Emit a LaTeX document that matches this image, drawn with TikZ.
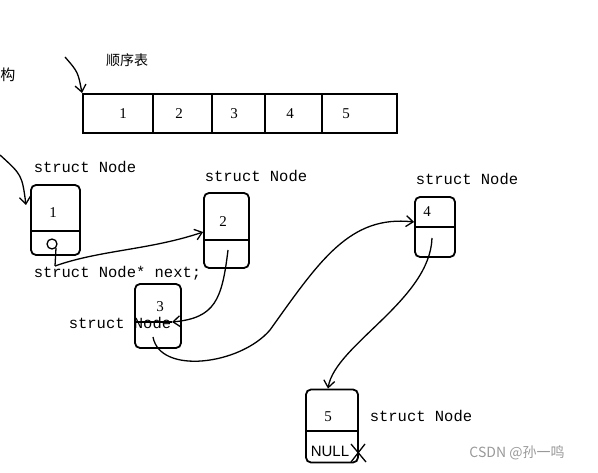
\documentclass[tikz,border=0pt]{standalone}
\usepackage{fontspec}
\setmainfont{Liberation Serif}
\setmonofont{Liberation Mono}
\newfontfamily\cjkfont{Noto Sans CJK SC}
\newfontfamily\markfont{Liberation Sans}
\usetikzlibrary{arrows.meta}

\begin{document}
\begin{tikzpicture}[x=1pt,y=-1pt,line width=1.6pt,
  cell/.style={font=\fontsize{15}{17}\selectfont},
  listbox/.style={draw,rounded corners=5pt,inner sep=0pt,line width=1.8pt},
  tag/.style={font=\ttfamily\fontsize{15.5}{17}\selectfont,anchor=west,inner sep=0pt},
  link/.style={-{Straight Barb[length=7pt,width=11pt]},line width=1.3pt}]
  \useasboundingbox (0,0) rectangle (598,473);
  % sequence table
  \node[font=\cjkfont\fontsize{14}{16}\selectfont] (title) at (127,60) {顺序表};
  \node[font=\cjkfont\fontsize{15}{17}\selectfont] (cut) at (8,75) {构};
  \node[draw,inner sep=0pt,minimum width=314pt,minimum height=39pt,line width=2pt] (arr) at (240,113.5) {};
  \foreach \x in {153,212,265,322}
    \draw (\x,94) -- (\x,133);
  \foreach \x/\v in {123/1,179/2,234/3,290/4,346/5}
    \node[cell] (c\v) at (\x,114) {\v};
  \coordinate (p0) at (65,57);
  \draw[link] (p0) .. controls (78,72) .. (arr.north west);
  % linked list
  \node[listbox,minimum width=49pt,minimum height=70pt] (n1) at (55.5,220) {};
  \node[listbox,minimum width=45pt,minimum height=75pt] (n2) at (226.5,230.5) {};
  \node[listbox,minimum width=46pt,minimum height=64pt] (n3) at (158,316) {};
  \node[listbox,minimum width=40pt,minimum height=60pt] (n4) at (435,227) {};
  \node[listbox,minimum width=52pt,minimum height=73pt] (n5) at (332,426) {};
  \draw (n1.west |- 0,231) -- (n1.east |- 0,231);
  \draw (n2.west |- 0,240) -- (n2.east |- 0,240);
  \draw (n4.west |- 0,227) -- (n4.east |- 0,227);
  \draw (n5.west |- 0,431) -- (n5.east |- 0,431);
  \node[cell] (v1) at (53,213) {1};
  \node[cell] (v2) at (223,222) {2};
  \node[cell] (v3) at (160,307) {3};
  \node[cell] (v4) at (427,212) {4};
  \node[cell] (v5) at (328,417) {5};
  \node[font=\markfont\fontsize{15}{17}\selectfont,inner sep=0pt] (nul) at (330,451) {NULL};
  \draw[line width=1.3pt] (351,444) -- (366,462) (365,444) -- (351,462);
  \node[tag] (t1) at (33,167) {struct Node};
  \node[tag] (t2) at (204,176) {struct Node};
  \node[tag] (t3) at (68,323) {struct Node};
  \node[tag] (t4) at (415,179) {struct Node};
  \node[tag] (t5) at (369,416) {struct Node};
  \node[tag] (tn) at (33,273) {struct Node* next;};
  \draw[line width=1.3pt] (52,244) circle (5pt);
  \coordinate (q0) at (0,155);
  \coordinate (q1) at (26,205);
  \draw[link] (q0) .. controls (22,175) .. (q1);
  % links between nodes
  \coordinate (h1) at (55,266);
  \coordinate (a3) at (172,322);
  \draw[line width=1.3pt] (56,248) -- (h1);
  \draw[link] (h1) .. controls (100,250) and (150,250) .. (n2.west |- 0,232);
  \draw[link] (228,250) .. controls (222,300) and (215,318) .. (a3);
  \draw[line width=1.3pt] (a3) -- (n3.west |- 0,322);
  \draw[link] (153,337) .. controls (160,375) and (240,365) .. (270,330)
    .. controls (320,260) and (350,215) .. (n4.west |- 0,222);
  \draw[link] (432,238) .. controls (430,300) and (335,345) .. (n5.north -| 328,0);
  \node[font=\cjkfont\fontsize{14}{16}\selectfont,text=black!40] (mark) at (517,453) {CSDN @孙一鸣};
\end{tikzpicture}
\end{document}
